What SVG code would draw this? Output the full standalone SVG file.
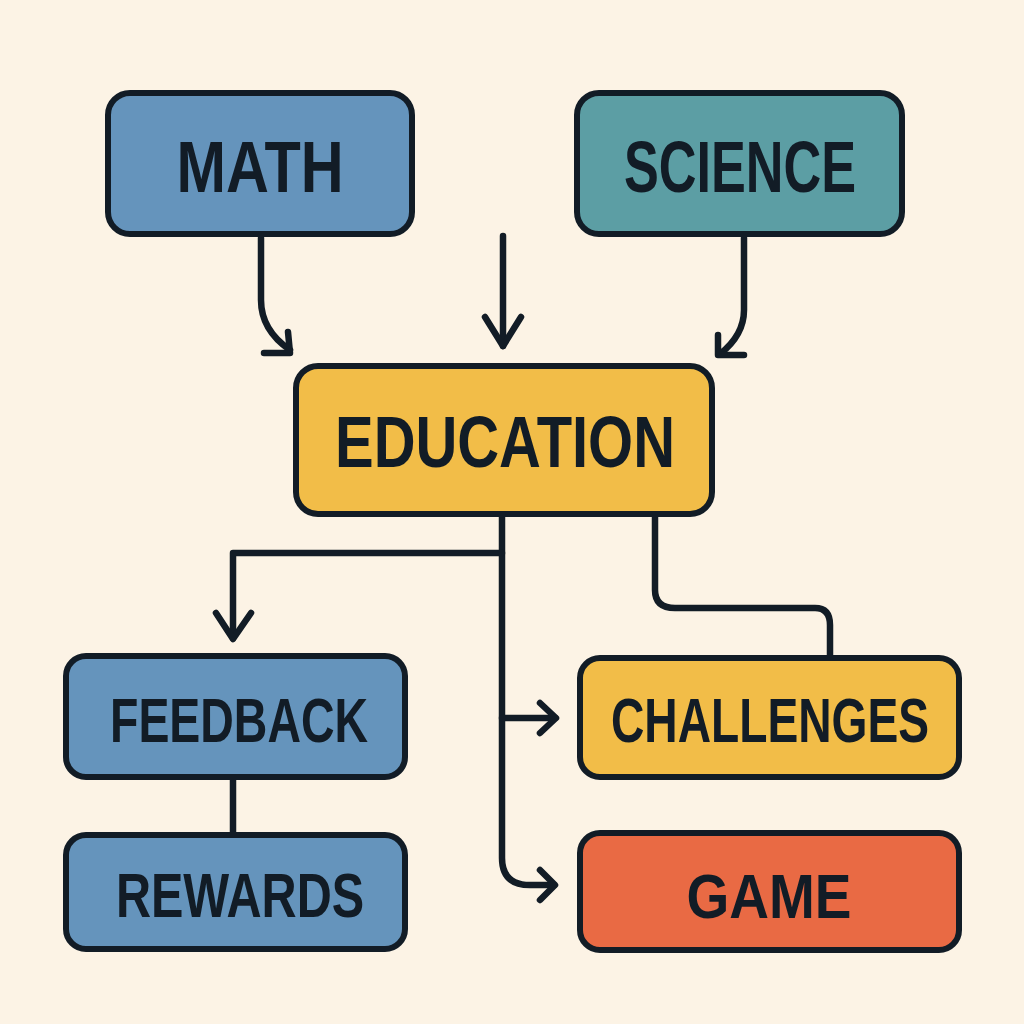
<svg xmlns="http://www.w3.org/2000/svg" width="1024" height="1024" viewBox="0 0 1024 1024">
<style>
.box{stroke:#121c26;stroke-width:6}
.blue{fill:#6594bc}
.teal{fill:#5c9ea4}
.yellow{fill:#f2bd48}
.orange{fill:#e96a44}
.lbl{font-family:"Liberation Sans","DejaVu Sans",sans-serif;font-weight:bold;fill:#121c26;text-anchor:middle}
.big{font-size:72px}
.mid{font-size:62px}
.con{fill:none;stroke:#121c26;stroke-width:6.5;stroke-linecap:round;stroke-linejoin:round}
</style>
<rect width="1024" height="1024" fill="#fcf3e5"/>
<g id="connectors">
<path class="con" d="M261 238 V300 Q261 330 290 350"/>
<path class="con" d="M264 353 H290 L288 332"/>
<path class="con" d="M503 236 V346"/>
<path class="con" d="M485 317 L503 346 L521 317"/>
<path class="con" d="M744 238 V310 Q744 335 720 354"/>
<path class="con" d="M718 335 L718 355 L744 355"/>
<path class="con" d="M502 517 V858 Q502 885 530 885 H554"/>
<path class="con" d="M540 870 L555 885 L540 900"/>
<path class="con" d="M502 553 H233 V638"/>
<path class="con" d="M216 613 L233 639 L251 613"/>
<path class="con" d="M502 718 H555"/>
<path class="con" d="M540 703 L556 718 L540 733"/>
<path class="con" d="M655 517 V590 Q655 608 675 608 H815 Q830 608 830 625 V655"/>
<path class="con" d="M233 780 V832"/>
</g>
<g id="math"><rect class="box blue" x="108" y="93" width="304" height="141" rx="22"/><text class="lbl big" transform="translate(260,192) scale(0.8,1)" textLength="209" lengthAdjust="spacingAndGlyphs">MATH</text></g>
<g id="science"><rect class="box teal" x="577" y="93" width="325" height="141" rx="22"/><text class="lbl big" transform="translate(740,192) scale(0.8,1)" textLength="290" lengthAdjust="spacingAndGlyphs">SCIENCE</text></g>
<g id="education"><rect class="box yellow" x="296" y="366" width="416" height="148" rx="22"/><text class="lbl big" transform="translate(505,467) scale(0.8,1)" textLength="425" lengthAdjust="spacingAndGlyphs">EDUCATION</text></g>
<g id="feedback"><rect class="box blue" x="66" y="656" width="339" height="121" rx="20"/><text class="lbl mid" transform="translate(239,742) scale(0.75,1)" textLength="344" lengthAdjust="spacingAndGlyphs">FEEDBACK</text></g>
<g id="rewards"><rect class="box blue" x="66" y="835" width="339" height="114" rx="20"/><text class="lbl mid" transform="translate(240,917) scale(0.75,1)" textLength="331" lengthAdjust="spacingAndGlyphs">REWARDS</text></g>
<g id="challenges"><rect class="box yellow" x="580" y="658" width="379" height="119" rx="20"/><text class="lbl mid" transform="translate(770,742) scale(0.75,1)" textLength="424" lengthAdjust="spacingAndGlyphs">CHALLENGES</text></g>
<g id="game"><rect class="box orange" x="580" y="833" width="379" height="117" rx="20"/><text class="lbl mid" transform="translate(769,918) scale(0.75,1)" textLength="220" lengthAdjust="spacingAndGlyphs">GAME</text></g>
</svg>
